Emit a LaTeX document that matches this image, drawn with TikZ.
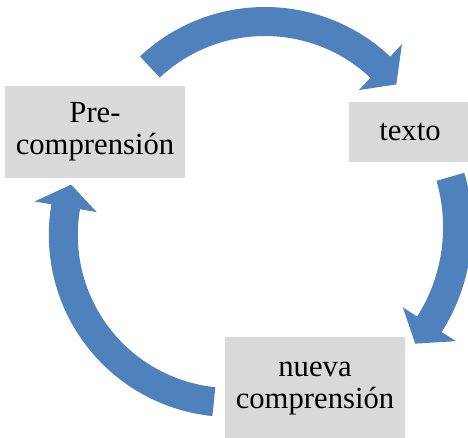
\documentclass[tikz,border=0pt]{standalone}
\usepackage{fontspec}
\setmainfont{Liberation Serif}
\usetikzlibrary{positioning}
\definecolor{cycleblue}{HTML}{4F81BD}
\definecolor{boxgray}{HTML}{D9D9D9}

\begin{document}
\begin{tikzpicture}[x=0.75pt, y=0.75pt,
    box/.style={fill=boxgray, inner sep=0pt, align=center, font=\fontsize{23}{24}\selectfont},
    arrowpart/.style={fill=cycleblue}]
    \useasboundingbox (0,0) rectangle (468,437);
    \clip (0,0) rectangle (468,437);

    % Boxes
    \node[box, minimum width=135pt, minimum height=69pt] (pre) at (95,305) {Pre-\\comprensión};
    \node[box, minimum width=91.5pt, minimum height=45pt] (texto) at (410,305) {texto};
    \node[box, minimum width=135pt, minimum height=78pt] (nueva) at (315,48) {nueva\\comprensión};

    % Pre-comprension -> texto
    \fill[arrowpart, shift={(265,247)}] (133.1:183) arc[start angle=133.1, end angle=46.8, radius=183]
        -- (46.8:200) -- (38.8:168.5) -- (46.8:137) -- (46.8:154)
        arc[start angle=46.8, end angle=133.1, radius=154] -- cycle;

    % texto -> nueva comprension
    \fill[arrowpart, shift={(276.6,209.7)}] (16.2:195.5) arc[start angle=16.2, end angle=-32.4, radius=195.5]
        -- (-32.4:212.5) -- (-40:181) -- (-32.4:149.5) -- (-32.4:166.5)
        arc[start angle=-32.4, end angle=16.2, radius=166.5] -- cycle;

    % nueva comprension -> Pre-comprension
    \fill[arrowpart, shift={(230.8,202)}] (264.2:182) arc[start angle=264.2, end angle=170.3, radius=182]
        -- (170.3:199) -- (162.5:167.5) -- (170.3:136) -- (170.3:153)
        arc[start angle=170.3, end angle=264.2, radius=153] -- cycle;
\end{tikzpicture}
\end{document}
